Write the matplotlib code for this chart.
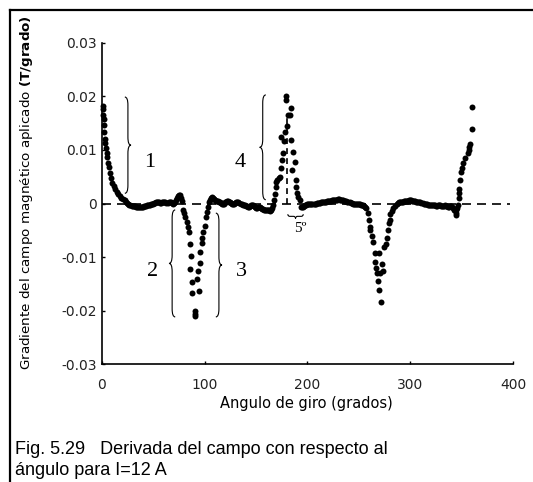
import matplotlib
matplotlib.use("Agg")
import matplotlib.pyplot as plt
from matplotlib.path import Path
from matplotlib.patches import PathPatch
from matplotlib.lines import Line2D

# ---- data (angle in degrees, gradient in T/degree) ----
decay_deg = [0.8, 1.2, 1.5, 1.8, 2.1, 2.4, 3.0, 3.5, 4.3, 5.0, 5.6, 6.6, 7.4,
             8.3, 9.2, 10.3, 11.5, 12.9, 14.4, 16.0, 17.5, 19.0, 20.8, 22.6, 24.0]
decay_val = [0.0183, 0.0176, 0.0166, 0.0158, 0.0146, 0.0134, 0.0121, 0.0113,
             0.0104, 0.0095, 0.0087, 0.0076, 0.0068, 0.0057, 0.0048, 0.0039,
             0.0032, 0.0027, 0.0022, 0.0018, 0.0014, 0.0011, 0.0009, 0.0006, 0.0003]

base1_deg = list(range(25, 79))
base1_val = [0.0001, -0.0001, -0.0002, -0.0003, -0.0004, -0.0004, -0.0005, -0.0005, -0.0006, -0.0006,
             -0.0007, -0.0007, -0.0007, -0.0007, -0.0006, -0.0006, -0.0005, -0.0004, -0.0004, -0.0003,
             -0.0003, -0.0002, -0.0002, -0.0001, -0.0001, 0.0000, 0.0001, 0.0001, 0.0002, 0.0002,
             0.0002, 0.0002, 0.0001, 0.0001, 0.0002, 0.0003, 0.0003, 0.0002, 0.0001, 0.0001,
             0.0002, 0.0003, 0.0002, 0.0001, 0.0000, 0.0001, 0.0003, 0.0006, 0.0010, 0.0014,
             0.0016, 0.0015, 0.0011, 0.0004]

dip1_deg = [79.3, 80.2, 81.3, 82.5, 83.6, 84.7, 85.9, 86.7, 85.9, 87.4,
            88.0, 90.6, 90.6, 90.6, 94.9, 92.4, 93.9, 95.4, 95.8, 97.5,
            97.1, 99.0, 100.5, 101.2, 102.1, 103.0, 104.0]
dip1_val = [-0.0012, -0.0018, -0.0026, -0.0034, -0.0044, -0.0053, -0.0076, -0.0099, -0.0122, -0.0146,
            -0.0167, -0.0200, -0.0206, -0.0211, -0.0163, -0.0142, -0.0126, -0.0111, -0.0090, -0.0073,
            -0.0065, -0.0053, -0.0042, -0.0025, -0.0015, -0.0006, 0.0002]

base2_deg = list(range(105, 168))
base2_val = [0.0007, 0.0011, 0.0012, 0.0010, 0.0008, 0.0006, 0.0005, 0.0004, 0.0004, 0.0003,
             0.0002, 0.0001, 0.0000, -0.0001, 0.0000, 0.0002, 0.0003, 0.0004, 0.0004, 0.0003,
             0.0002, 0.0001, 0.0000, -0.0001, 0.0000, 0.0001, 0.0002, 0.0003, 0.0002, 0.0001,
             0.0000, -0.0001, -0.0002, -0.0002, -0.0003, -0.0004, -0.0005, -0.0006, -0.0006, -0.0005,
             -0.0003, -0.0002, -0.0003, -0.0005, -0.0007, -0.0008, -0.0008, -0.0007, -0.0006, -0.0006,
             -0.0008, -0.0010, -0.0011, -0.0012, -0.0013, -0.0013, -0.0012, -0.0012, -0.0013, -0.0014,
             -0.0012, -0.0008, -0.0002]

peak_deg = [168.0, 168.7, 169.3, 169.9, 170.6, 172.0, 173.5, 174.5, 175.7, 176.3,
            177.0, 174.7, 178.0, 180.2, 181.2, 179.0, 179.0, 184.5, 183.5, 184.5,
            186.0, 187.7, 185.0, 188.6, 189.3, 190.0, 190.9, 192.5, 194.0]
peak_val = [0.0006, 0.0018, 0.0030, 0.0041, 0.0044, 0.0047, 0.0050, 0.0066, 0.0081, 0.0095,
            0.0116, 0.0125, 0.0133, 0.0144, 0.0165, 0.0194, 0.0200, 0.0178, 0.0165, 0.0119,
            0.0097, 0.0078, 0.0063, 0.0044, 0.0031, 0.0020, 0.0013, 0.0007, -0.0006]

base3_deg = list(range(195, 257))
base3_val = [-0.0007, -0.0006, -0.0004, -0.0003, -0.0002, -0.0001, 0.0000, 0.0000, -0.0001, -0.0001,
             -0.0001, 0.0000, 0.0000, 0.0000, 0.0001, 0.0001, 0.0001, 0.0001, 0.0002, 0.0002,
             0.0002, 0.0003, 0.0003, 0.0003, 0.0004, 0.0004, 0.0004, 0.0005, 0.0005, 0.0006,
             0.0006, 0.0006, 0.0007, 0.0007, 0.0007, 0.0008, 0.0008, 0.0007, 0.0007, 0.0006,
             0.0006, 0.0005, 0.0004, 0.0004, 0.0003, 0.0002, 0.0002, 0.0001, 0.0001, 0.0000,
             0.0000, 0.0000, -0.0001, -0.0001, 0.0000, 0.0000, -0.0001, -0.0002, -0.0002, -0.0003,
             -0.0004, -0.0006]

dip2_deg = [257.5, 258.9, 259.8, 260.6, 261.2, 262.5, 263.7, 265.3, 265.3, 266.5,
            267.6, 268.5, 269.5, 271.8, 270.9, 273.5, 272.8, 269.5, 276.0, 275.0,
            277.0, 278.3, 279.0, 280.0, 280.8, 282.0, 283.2, 284.8]
dip2_val = [-0.0008, -0.0018, -0.0030, -0.0043, -0.0050, -0.0060, -0.0072, -0.0093, -0.0109, -0.0120,
            -0.0130, -0.0145, -0.0162, -0.0185, -0.0130, -0.0127, -0.0113, -0.0093, -0.0076, -0.0081,
            -0.0064, -0.0050, -0.0036, -0.0031, -0.0020, -0.0014, -0.0009, -0.0004]

base4_deg = list(range(287, 344))
base4_val = [0.0000, 0.0001, 0.0002, 0.0002, 0.0003, 0.0003, 0.0003, 0.0004, 0.0004, 0.0004,
             0.0005, 0.0005, 0.0006, 0.0006, 0.0006, 0.0005, 0.0005, 0.0004, 0.0004, 0.0003,
             0.0003, 0.0002, 0.0002, 0.0002, 0.0001, 0.0001, 0.0000, 0.0000, -0.0001, -0.0001,
             -0.0002, -0.0002, -0.0002, -0.0003, -0.0003, -0.0002, -0.0002, -0.0003, -0.0004, -0.0004,
             -0.0003, -0.0002, -0.0003, -0.0004, -0.0005, -0.0005, -0.0004, -0.0003, -0.0004, -0.0005,
             -0.0006, -0.0006, -0.0005, -0.0004, -0.0006, -0.0009, -0.0013]

rise_deg = [344.3, 344.6, 345.0, 345.6, 346.4, 347.2, 347.5, 347.8, 348.7, 349.5,
            350.5, 351.7, 353.5, 355.9, 357.0, 357.6, 358.3, 359.8, 359.8]
rise_val = [-0.0017, -0.0021, -0.0012, -0.0008, -0.0002, 0.0010, 0.0019, 0.0028, 0.0043, 0.0059,
            0.0067, 0.0075, 0.0085, 0.0094, 0.0100, 0.0106, 0.0111, 0.0140, 0.0181]

xticks = [0, 100, 200, 300, 400]
xtick_labels = ["0", "100", "200", "300", "400"]
yticks = [-0.03, -0.02, -0.01, 0, 0.01, 0.02, 0.03]
ytick_labels = ["-0.03", "-0.02", "-0.01", "0", "0.01", "0.02", "0.03"]

# region labels: (text, angle, value)
region_labels = [("1", 47, 0.0076), ("4", 134.5, 0.0076), ("2", 49, -0.0128), ("3", 136, -0.0128)]
# braces: (angle of stem, bottom, top, side of the tip)
braces = [(25.5, 0.0019, 0.0199, 1), (156.6, 0.0007, 0.0203, -1),
          (68.5, -0.0212, -0.0012, -1), (114.0, -0.0212, -0.0018, 1)]
marker_angle = 180.5
marker_top = 0.0162
small_brace = (181.0, 196.0, -0.0024)


def vbrace(ax, x, y0, y1, d, w=3.0, c=0.0015):
    ym = (y0 + y1) / 2
    verts = [(x - d * w, y1), (x, y1), (x, y1 - c), (x, ym + c),
             (x, ym), (x + d * w, ym), (x, ym), (x, ym - c),
             (x, y0 + c), (x, y0), (x - d * w, y0)]
    codes = [Path.MOVETO, Path.CURVE3, Path.CURVE3, Path.LINETO,
             Path.CURVE3, Path.CURVE3, Path.CURVE3, Path.CURVE3,
             Path.LINETO, Path.CURVE3, Path.CURVE3]
    ax.add_patch(PathPatch(Path(verts, codes), fill=False, lw=0.8, color="black"))


def hbrace(ax, x0, x1, y, h=0.0004, c=2.0):
    xm = (x0 + x1) / 2
    verts = [(x0, y + h), (x0, y), (x0 + c, y), (xm - c, y),
             (xm, y), (xm, y - h), (xm, y), (xm + c, y),
             (x1 - c, y), (x1, y), (x1, y + h)]
    codes = [Path.MOVETO, Path.CURVE3, Path.CURVE3, Path.LINETO,
             Path.CURVE3, Path.CURVE3, Path.CURVE3, Path.CURVE3,
             Path.LINETO, Path.CURVE3, Path.CURVE3]
    ax.add_patch(PathPatch(Path(verts, codes), fill=False, lw=0.8, color="black"))


plt.rcParams["font.family"] = "DejaVu Sans"
fig = plt.figure(figsize=(5.33, 4.82), dpi=100)
ax = fig.add_axes([0.1908, 0.2448, 0.7717, 0.666])

ax.plot([0, 397], [0, 0], color="black", lw=1.2, linestyle=(0, (5.4, 3.6)), zorder=1)
ax.plot([marker_angle, marker_angle], [0, marker_top], color="black", lw=1.2,
        linestyle=(0, (3.5, 2.5)), zorder=1)

segments = [(decay_deg, decay_val), (base1_deg, base1_val), (dip1_deg, dip1_val),
            (base2_deg, base2_val), (peak_deg, peak_val), (base3_deg, base3_val),
            (dip2_deg, dip2_val), (base4_deg, base4_val), (rise_deg, rise_val)]
for xs, ys in segments:
    ax.plot(xs, ys, "o", color="black", ms=4.3, mew=0, zorder=3, clip_on=False)

for x, y0, y1, d in braces:
    vbrace(ax, x, y0, y1, d)
hbrace(ax, *small_brace)

for txt, x, y in region_labels:
    ax.text(x, y, txt, family="Liberation Serif", fontsize=16, ha="center", va="center")
ax.text(193, -0.0046, "5º", family="Liberation Serif", fontsize=11, ha="center", va="center")

ax.set_xlim(0, 400)
ax.set_ylim(-0.03, 0.03)
ax.set_xticks(xticks)
ax.set_xticklabels(xtick_labels)
ax.set_yticks(yticks)
ax.set_yticklabels(ytick_labels)
for s in ["top", "right"]:
    ax.spines[s].set_visible(False)
for s in ["left", "bottom"]:
    ax.spines[s].set_linewidth(1.2)
ax.tick_params(axis="both", direction="in", length=2.5, width=1.0, labelsize=10,
               labelcolor="#222222")
ax.tick_params(axis="x", pad=10)
ax.tick_params(axis="y", pad=3.4)

ax.set_xlabel("Angulo de giro (grados)", fontsize=10.5)
ax.xaxis.set_label_coords(0.4967, -0.10)
ax.set_ylabel("Gradiente del campo magnético aplicado $\\mathbf{(T/grado)}$", fontsize=9.7)
ax.yaxis.set_label_coords(-0.161, 0.534)

# frame of the figure box
fig.add_artist(Line2D([10 / 533, 10 / 533], [0, 1 - 10 / 482], color="black", lw=1.6,
                      transform=fig.transFigure, solid_capstyle="projecting"))
fig.add_artist(Line2D([10 / 533, 1], [1 - 10 / 482, 1 - 10 / 482], color="black", lw=1.6,
                      transform=fig.transFigure, solid_capstyle="projecting"))

fig.text(15 / 533, 28 / 482, "Fig. 5.29   Derivada del campo con respecto al",
         family="Liberation Sans", fontsize=13, va="baseline", ha="left")
fig.text(15 / 533, 7 / 482, "ángulo para I=12 A",
         family="Liberation Sans", fontsize=13, va="baseline", ha="left")

fig.savefig("out.png", dpi=100)
